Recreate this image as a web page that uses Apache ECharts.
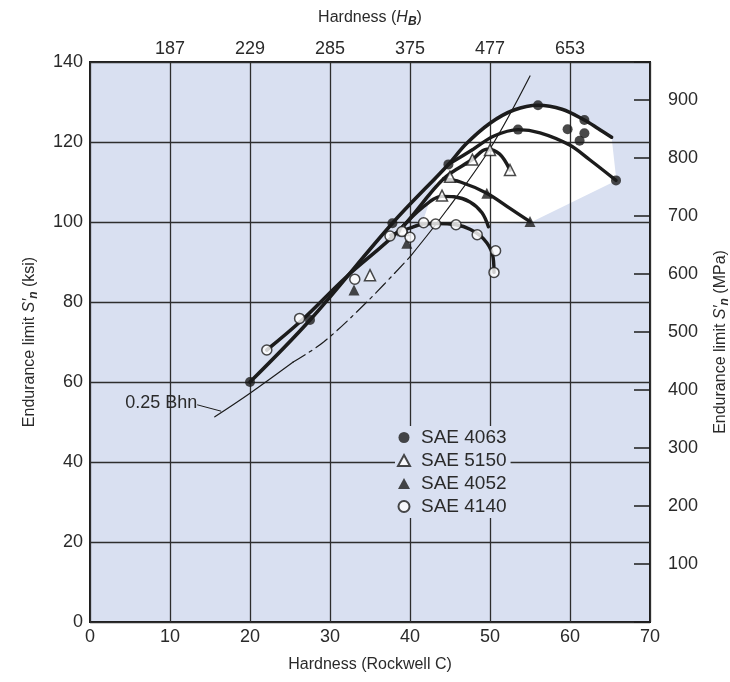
<!DOCTYPE html>
<html lang="en">
<head>
<meta charset="UTF-8">
<title>Endurance limit vs hardness</title>
<script src="https://cdn.jsdelivr.net/npm/echarts@6/dist/echarts.min.js"></script>
<style>html,body{margin:0;background:#fff}</style>
</head>
<body>
<div id="main" style="width:730px;height:682px;"></div>
<script>
// top axis: Brinell hardness written over the Rockwell C grid lines
const topTicks = [10, 20, 30, 40, 50, 60];
const topLabels = ['187', '229', '285', '375', '477', '653'];
const KSI_TO_MPA = 6.895;

// test points [Rockwell C, ksi]
const sae4063 = [[20, 60], [27.5, 75.5], [37.8, 99.7], [44.8, 114.4], [53.5, 123.1], [56, 129.2],
  [59.7, 123.2], [61.2, 120.3], [61.8, 122.2], [61.8, 125.5], [65.75, 110.4]];
const sae5150 = [[35, 86.7], [39.2, 98], [44, 106.6], [45, 111.3], [47.8, 115.6], [50, 118], [52.5, 113]];
const sae4052 = [[33, 83], [39.6, 94.7], [49.6, 107.2], [55, 100.1]];
const sae4140 = [[22.1, 68], [26.2, 75.9], [33.1, 85.7], [37.5, 96.5], [39, 97.6], [40, 96.2], [41.7, 99.8],
  [43.2, 99.5], [45.75, 99.3], [48.4, 96.8], [50.7, 92.8], [50.5, 87.4]];

// faired curves
const curve4063a = [[20, 60], [27.5, 75.5], [37.8, 99.7], [44.8, 114.4], [47, 119.5], [50, 124.7], [53, 128],
  [56, 129.2], [59, 128.2], [61.8, 125.5], [63.5, 123.4], [65.2, 121.2]];
const curve4063b = [[44.8, 114.4], [47.9, 118.2], [50.5, 121.5], [53.5, 123.1], [56.25, 122.3], [59.9, 119.3],
  [62.5, 115.5], [65.75, 110.4]];
const curve5150a = [[22.1, 68], [26.5, 75.5], [32, 86.2], [38.7, 98], [44.2, 110.8], [47.8, 115.6], [49.6, 118.2],
  [51.2, 117], [52.5, 113]];
const curve5150b = [[38.7, 98], [41.5, 103.5], [44, 106.4], [45.5, 106.3], [47.5, 105], [49, 102.3], [49.8, 98.8]];
const curve4052 = [[44.2, 110.8], [46.3, 110], [49.6, 107.2], [52.5, 103.4], [55, 100.1]];
const curve4140 = [[37.6, 96.7], [40, 98.5], [41.7, 99.5], [43.25, 99.6], [45.75, 99.3], [47.5, 98.2],
  [49.2, 95.8], [50.3, 92], [50.5, 87.4]];

// 0.25 Bhn line: solid, dash-dot, solid
const bhnA = [[15.6, 51.3], [20, 57.2], [25.4, 65]];
const bhnB = [[25.4, 65], [29.2, 70], [34.6, 80], [40, 91.3]];
const bhnC = [[40, 91.3], [44.6, 103], [50, 118.3], [55, 136.5]];

// white paper showing between the curves
const whiteArea = [[41.5, 99.5], [43.5, 111.5], [44.8, 114.4], [47, 119.5], [50, 124.7], [53, 128], [56, 129.2],
  [59, 128.2], [61.8, 125.5], [63.5, 123.4], [65.2, 121.2], [65.8, 110.4], [55, 99.8], [46, 99.3]];

const INK = '#1c1c1c';
const TXT = '#2a2a2a';
const FONT = 'Liberation Sans';

var chart = echarts.init(document.getElementById('main'));

function curve(data, width, type) {
  return {
    type: 'line', data: data, symbol: 'none', smooth: 0.35, silent: true, z: 3,
    lineStyle: { color: INK, width: width, type: type || 'solid', cap: 'round' }
  };
}

function pts(name, data, symbol, filled, size) {
  return {
    name: name, type: 'scatter', data: data, symbol: symbol, symbolSize: size, z: 5,
    itemStyle: { color: filled ? INK : '#fff', borderColor: INK, borderWidth: filled ? 0 : 1.5 }
  };
}

const nameRich = {
  i: { fontSize: 16, fontStyle: 'italic', color: TXT },
  sub: { fontSize: 12, fontStyle: 'italic', fontWeight: 'bold', color: TXT, padding: [9, 0, 0, 0] }
};

var option = {
  animation: false,
  textStyle: { fontFamily: FONT },
  grid: {
    left: 90, right: 80, top: 62, bottom: 60, z: -2, outerBoundsMode: 'none',
    show: true, backgroundColor: '#d9e0f1', borderColor: INK, borderWidth: 2
  },
  legend: {
    orient: 'vertical', left: 395, top: 426, itemGap: 4, itemWidth: 12, itemHeight: 11,
    backgroundColor: '#d9e0f1', padding: [2, 4, 2, 2],
    textStyle: { fontSize: 19, color: TXT, fontFamily: FONT, padding: [0, 0, 0, 6] },
    data: ['SAE 4063', 'SAE 5150', 'SAE 4052', 'SAE 4140']
  },
  xAxis: [{
    type: 'value', min: 0, max: 70, interval: 10, z: 1,
    name: 'Hardness (Rockwell C)', nameLocation: 'middle', nameGap: 35,
    nameTextStyle: { fontSize: 16, color: TXT },
    axisLine: { show: false, onZero: false }, axisTick: { show: false },
    axisLabel: { fontSize: 18, color: TXT, margin: 6 },
    splitLine: { lineStyle: { color: '#2e2e2e', width: 1.3 } }
  }, {
    type: 'value', position: 'top', min: 0, max: 70, interval: 10, z: 1,
    name: 'Hardness ({i|H}{sub|B})', nameLocation: 'middle', nameGap: 34,
    nameTextStyle: { fontSize: 16, color: TXT, rich: nameRich },
    axisLine: { show: false, onZero: false }, axisTick: { show: false }, splitLine: { show: false },
    axisLabel: {
      fontSize: 18, color: TXT, margin: 4,
      formatter: v => { const k = topTicks.indexOf(v); return k < 0 ? '' : topLabels[k]; }
    }
  }],
  yAxis: [{
    type: 'value', min: 0, max: 140, interval: 20, z: 1,
    name: 'Endurance limit {i|S′}{sub|n} (ksi)', nameLocation: 'middle', nameGap: 50,
    nameTextStyle: { fontSize: 16, color: TXT, rich: nameRich },
    axisLine: { show: false, onZero: false }, axisTick: { show: false },
    axisLabel: { fontSize: 18, color: TXT, margin: 7 },
    splitLine: { lineStyle: { color: '#2e2e2e', width: 1.3 } }
  }, {
    type: 'value', position: 'right', min: 0, max: 140 * KSI_TO_MPA, interval: 100, z: 1,
    name: 'Endurance limit {i|S′}{sub|n} (MPa)', nameLocation: 'middle', nameGap: 60, nameRotate: 90,
    nameTextStyle: { fontSize: 16, color: TXT, rich: nameRich },
    axisLine: { show: false, onZero: false },
    axisTick: { show: true, inside: true, length: 16, lineStyle: { color: INK, width: 1.5 } },
    axisLabel: {
      fontSize: 18, color: TXT, margin: 18,
      formatter: v => (v > 0 && v % 100 === 0) ? String(v) : ''
    },
    splitLine: { show: false }
  }],
  series: [
    {
      type: 'custom', silent: true, z: 0, data: [0],
      renderItem: function (params, api) {
        return {
          type: 'polygon',
          shape: { points: whiteArea.map(p => api.coord(p)) },
          style: { fill: '#ffffff' }
        };
      }
    },
    curve(bhnA, 1.2),
    curve(bhnB, 1.2, [14, 5, 3, 5]),
    curve(bhnC, 1.2),
    curve(curve4063a, 3.6),
    curve(curve4063b, 3.4),
    curve(curve5150a, 3.6),
    curve(curve5150b, 3.4),
    curve(curve4052, 3.4),
    curve(curve4140, 3.4),
    {
      type: 'line', data: [], silent: true,
      markLine: {
        silent: true, symbol: ['none', 'arrow'], symbolSize: [0, 8],
        lineStyle: { color: INK, width: 1, type: 'solid' }, label: { show: false },
        data: [[{ coord: [13.4, 54.3] }, { coord: [16.4, 52.7] }]]
      },
      markPoint: {
        silent: true, symbol: 'circle', symbolSize: 0,
        label: { show: true, position: 'left', distance: 0, formatter: '0.25 Bhn', fontSize: 18, color: TXT },
        data: [{ coord: [13.4, 54.8] }]
      }
    },
    pts('SAE 4063', sae4063, 'circle', true, 10),
    pts('SAE 5150', sae5150, 'triangle', false, 11),
    pts('SAE 4052', sae4052, 'triangle', true, 11),
    pts('SAE 4140', sae4140, 'circle', false, 10)
  ]
};

chart.setOption(option);
</script>
</body>
</html>
